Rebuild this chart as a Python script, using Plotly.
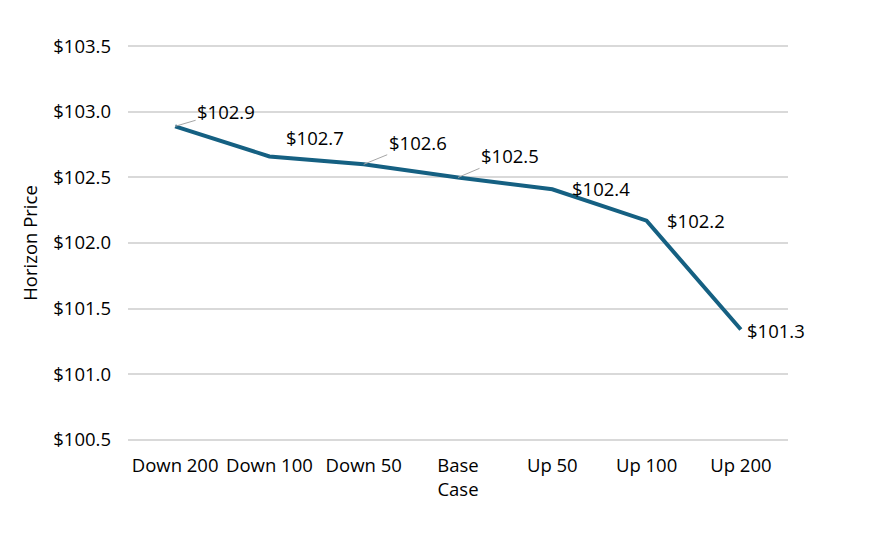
import plotly.graph_objects as go

# escenarios de tipos y precio horizonte
scenarios = ["Down 200", "Down 100", "Down 50", "Base<br>Case", "Up 50", "Up 100", "Up 200"]
horizon_price = [102.89, 102.66, 102.60, 102.50, 102.41, 102.17, 101.34]
price_labels = ["$102.9", "$102.7", "$102.6", "$102.5", "$102.4", "$102.2", "$101.3"]
has_leader = [True, False, True, True, False, False, False]

# desplazamiento de etiquetas (px)
dx = [51, 46, 54, 52, 49, 49, 35]
dy = [-15, -19, -22, -22, -1, 0, 1]

FONT = "Open Sans"
FS = 18.5
LINE = "#156082"

fig = go.Figure()
fig.add_trace(go.Scatter(
    x=scenarios,
    y=horizon_price,
    mode="lines",
    line=dict(color=LINE, width=4),
    showlegend=False,
    hoverinfo="skip"
))

for i in range(len(scenarios)):
    if has_leader[i]:
        fig.add_annotation(
            x=scenarios[i], y=horizon_price[i], text=price_labels[i],
            showarrow=True, arrowhead=0, arrowwidth=1, arrowcolor="#A6A6A6",
            ax=dx[i], ay=dy[i], standoff=0,
            font=dict(family=FONT, size=FS, color="#000000")
        )
    else:
        fig.add_annotation(
            x=scenarios[i], y=horizon_price[i], text=price_labels[i],
            showarrow=False, xshift=dx[i], yshift=-dy[i],
            font=dict(family=FONT, size=FS, color="#000000")
        )

fig.update_xaxes(
    type="category",
    range=[-0.5, 6.5],
    showgrid=False,
    showline=False,
    ticks="",
    automargin=False,
    ticklabelstandoff=11,
    tickfont=dict(family=FONT, size=FS, color="#000000")
)
fig.update_yaxes(
    range=[100.49, 103.51],
    tickvals=[100.5, 101.0, 101.5, 102.0, 102.5, 103.0, 103.5],
    tickformat="$.1f",
    showgrid=True,
    gridcolor="#D9D9D9",
    gridwidth=1.5,
    zeroline=False,
    showline=False,
    ticks="",
    automargin=False,
    ticklabelstandoff=16,
    tickfont=dict(family=FONT, size=FS, color="#000000"),
    title=dict(text="Horizon Price", font=dict(family=FONT, size=FS, color="#000000"), standoff=10)
)
fig.update_layout(
    width=880,
    height=540,
    margin=dict(l=120, r=100, t=37, b=107),
    plot_bgcolor="white",
    paper_bgcolor="white",
    font=dict(family=FONT, size=FS)
)

fig.write_html("out.html")
